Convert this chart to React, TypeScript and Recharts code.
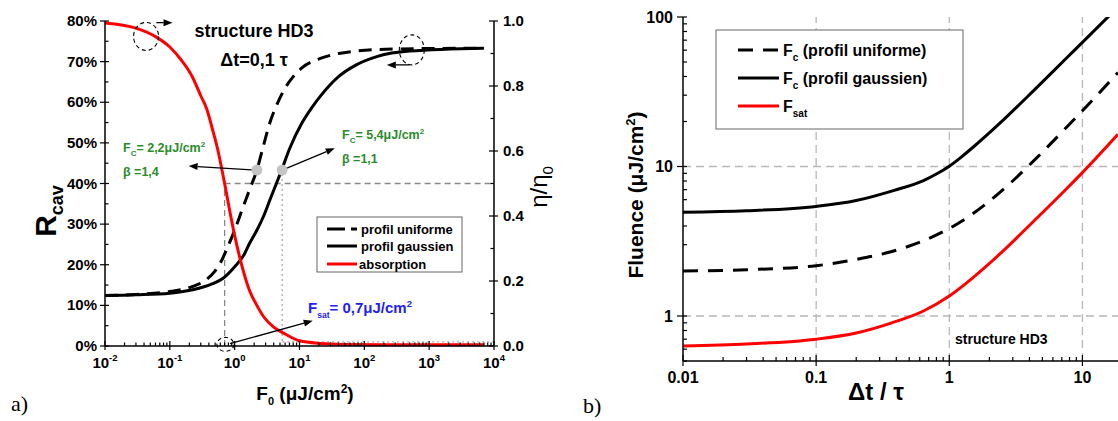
import React from 'react'
import { LineChart, Line, XAxis, YAxis, ReferenceLine, ReferenceDot } from 'recharts'

// ---------- panel a) : R_cav and eta/eta0 versus F0 (structure HD3, dt = 0.1 tau)
const fUniformA = [0.01, 0.03, 0.1, 0.22, 0.37, 0.5, 0.61, 0.8, 1.0, 1.3, 1.7, 2.2, 2.8, 3.5, 4.5, 6.0, 8.0, 11, 21, 40, 75, 270, 7000]
const rUniformA = [12.4, 12.7, 13.4, 14.6, 16.4, 18.5, 20.6, 24.8, 28.5, 33.5, 38.5, 43.3, 49.5, 55, 59.5, 63.5, 66.3, 68.5, 70.8, 72, 72.6, 73.1, 73.3]

const fGaussA = [0.01, 0.03, 0.1, 0.28, 0.47, 0.68, 1.0, 1.4, 1.7, 2.2, 2.8, 3.6, 4.4, 5.3, 7, 11, 16, 21, 40, 75, 160, 500, 7000]
const rGaussA = [12.4, 12.6, 13.0, 14.2, 15.4, 16.8, 19.5, 22.5, 25.3, 28.5, 32, 36.5, 40, 43.3, 48.5, 55, 59, 61.5, 66.3, 69.2, 71.3, 72.6, 73.3]

const fAbsA = [0.01, 0.03, 0.06, 0.1, 0.15, 0.22, 0.3, 0.37, 0.45, 0.54, 0.7, 0.85, 1.0, 1.3, 1.7, 2.2, 2.8, 4, 6, 10, 21, 50, 200, 7000]
const etaAbsA = [0.994, 0.978, 0.952, 0.92, 0.88, 0.83, 0.77, 0.73, 0.67, 0.61, 0.5, 0.41, 0.34, 0.245, 0.17, 0.125, 0.09, 0.058, 0.037, 0.016, 0.008, 0.005, 0.004, 0.004]

const fsatA = 0.7
const fcUniformA = 2.2
const fcGaussA = 5.4
const rAtFcA = 43.3

// ---------- panel b) : threshold fluences versus dt / tau
const dtB = [0.01, 0.03, 0.1, 0.2, 0.37, 0.64, 1, 1.5, 2.4, 4.3, 7.6, 10, 18.5]
const fcUniformB = [2.0, 2.04, 2.17, 2.39, 2.7, 3.19, 3.85, 4.83, 6.71, 10.9, 18.3, 23.6, 42.5]
const fsatB = [0.63, 0.65, 0.70, 0.77, 0.9, 1.08, 1.36, 1.8, 2.6, 4.3, 7.1, 9.1, 16.4]
const dtGaussB = [0.01, 0.03, 0.1, 0.2, 0.38, 0.64, 0.8, 1, 1.25, 1.5, 2.4, 4.3, 7.6, 10, 15.9]
const fcGaussB = [4.95, 5.06, 5.41, 5.92, 6.9, 8.05, 8.9, 10.05, 11.7, 13.4, 19.5, 32.2, 53.2, 67.7, 102]

const pts = (xs: number[], ys: number[]) => xs.map((x, i) => ({ x, y: ys[i] }))

const logTicks = (lo: number, hi: number) => {
  const out: number[] = []
  for (let e = Math.floor(Math.log10(lo)); e <= Math.ceil(Math.log10(hi)); e++) {
    for (let m = 1; m < 10; m++) {
      const v = +(m * Math.pow(10, e)).toPrecision(6)
      if (v >= lo - 1e-12 && v <= hi + 1e-9) out.push(v)
    }
  }
  return out
}
const isDecade = (v: number) => Math.abs(Math.log10(v) - Math.round(Math.log10(v))) < 1e-6

const FONT = '"Liberation Sans", Arial, sans-serif'
const RED = '#ff0000'
const GREEN = '#2a8c2a'
const BLUE = '#2222ee'

// ---------- tick renderers (tickSize 0 / tickMargin 0 => x,y sit on the axis line)
const XTickA = ({ x, y, payload }: any) => {
  const v = payload.value
  const major = isDecade(v)
  return (
    <g>
      <line x1={x} x2={x} y1={y - (major ? 5 : 3.5)} y2={y + (major ? 4 : 0)} stroke="#000" strokeWidth={1.2} />
      {major && (
        <text x={x} y={y + 22} textAnchor="middle" fontSize={15} fontWeight="bold" fontFamily={FONT} fill="#000">
          10<tspan dy={-7} fontSize={9.5}>{Math.round(Math.log10(v))}</tspan>
        </text>
      )}
    </g>
  )
}

const YTickLeftA = ({ x, y, payload }: any) => {
  const v = payload.value
  const major = v % 10 === 0
  return (
    <g>
      <line x1={x - (major ? 5 : 0)} x2={x + (major ? 4 : 3.5)} y1={y} y2={y} stroke="#000" strokeWidth={1.2} />
      {major && (
        <text x={x - 8} y={y + 5} textAnchor="end" fontSize={15} fontWeight="bold" fontFamily={FONT} fill="#000">{v}%</text>
      )}
    </g>
  )
}

const YTickRightA = ({ x, y, payload }: any) => {
  const v = payload.value
  const major = Math.round(v * 10) % 2 === 0
  return (
    <g>
      <line x1={x - (major ? 5 : 3.5)} x2={x + (major ? 4 : 0)} y1={y} y2={y} stroke="#000" strokeWidth={1.2} />
      {major && (
        <text x={x + 9} y={y + 5} textAnchor="start" fontSize={15} fontWeight="bold" fontFamily={FONT} fill="#000">{v.toFixed(1)}</text>
      )}
    </g>
  )
}

const XTickB = ({ x, y, payload }: any) => {
  const v = payload.value
  const major = isDecade(v)
  return (
    <g>
      <line x1={x} x2={x} y1={y - (major ? 6 : 4)} y2={y + (major ? 5 : 0)} stroke="#000" strokeWidth={1.2} />
      {major && (
        <text x={x} y={y + 22} textAnchor="middle" fontSize={16} fontWeight="bold" fontFamily={FONT} fill="#000">{String(v)}</text>
      )}
    </g>
  )
}

const YTickB = ({ x, y, payload }: any) => {
  const v = payload.value
  const major = isDecade(v)
  return (
    <g>
      <line x1={x - (major ? 6 : 0)} x2={x + 4} y1={y} y2={y} stroke="#000" strokeWidth={1.2} />
      {major && (
        <text x={x - 10} y={y + 6} textAnchor="end" fontSize={16} fontWeight="bold" fontFamily={FONT} fill="#000">{String(v)}</text>
      )}
    </g>
  )
}

// arrow drawn by ReferenceLine shape
const Arrow = (p: any) => {
  const { x1, y1, x2, y2 } = p
  const a = Math.atan2(y2 - y1, x2 - x1)
  const L = 9, w = 3.5
  const bx = x2 - L * Math.cos(a), by = y2 - L * Math.sin(a)
  const poly = `${x2},${y2} ${bx - w * Math.sin(a)},${by + w * Math.cos(a)} ${bx + w * Math.sin(a)},${by - w * Math.cos(a)}`
  return (
    <g>
      <line x1={x1} y1={y1} x2={bx} y2={by} stroke="#000" strokeWidth={1.3} />
      <polygon points={poly} fill="#000" />
    </g>
  )
}

const ellipse = (rx: number, ry: number) => (p: any) => (
  <ellipse cx={p.cx} cy={p.cy} rx={rx} ry={ry} fill="none" stroke="#000" strokeWidth={1.1} strokeDasharray="4 3" />
)

function PanelA() {
  return (
    <LineChart width={560} height={421} margin={{ top: 21, right: 6, bottom: 35, left: 45 }}>
      <XAxis dataKey="x" type="number" scale="log" domain={[0.01, 10000]} ticks={logTicks(0.01, 10000)}
        allowDataOverflow interval={0} tickSize={0} tickMargin={0} tickLine={false} tick={<XTickA />}
        axisLine={{ stroke: '#000', strokeWidth: 1.5 }} height={40} />
      <YAxis yAxisId="r" domain={[0, 80]} ticks={[0, 5, 10, 15, 20, 25, 30, 35, 40, 45, 50, 55, 60, 65, 70, 75, 80]}
        interval={0} tickSize={0} tickMargin={0} tickLine={false} tick={<YTickLeftA />}
        axisLine={{ stroke: '#000', strokeWidth: 1.5 }} width={60} />
      <YAxis yAxisId="eta" orientation="right" domain={[0, 1]} ticks={[0, 0.1, 0.2, 0.3, 0.4, 0.5, 0.6, 0.7, 0.8, 0.9, 1]}
        interval={0} tickSize={0} tickMargin={0} tickLine={false} tick={<YTickRightA />}
        axisLine={{ stroke: '#000', strokeWidth: 1.5 }} width={60} />

      <ReferenceLine yAxisId="r" segment={[{ x: fsatA, y: 40 }, { x: 10000, y: 40 }]} stroke="#888" strokeWidth={1.3} strokeDasharray="6 4" />
      <ReferenceLine yAxisId="r" segment={[{ x: fsatA, y: 0 }, { x: fsatA, y: 40 }]} stroke="#888" strokeWidth={1.3} strokeDasharray="6 4" />
      <ReferenceLine yAxisId="r" segment={[{ x: fcGaussA, y: 0 }, { x: fcGaussA, y: rAtFcA }]} stroke="#aaa" strokeWidth={1.3} strokeDasharray="2 3" />
      <ReferenceLine yAxisId="r" segment={[{ x: fcGaussA, y: 1 }, { x: 10000, y: 1 }]} stroke="#aaa" strokeWidth={1.3} strokeDasharray="2 3" />

      <Line yAxisId="r" data={pts(fUniformA, rUniformA)} dataKey="y" type="monotone" stroke="#000" strokeWidth={3} strokeDasharray="13 8" dot={false} isAnimationActive={false} />
      <Line yAxisId="r" data={pts(fGaussA, rGaussA)} dataKey="y" type="monotone" stroke="#000" strokeWidth={3} dot={false} isAnimationActive={false} />
      <Line yAxisId="eta" data={pts(fAbsA, etaAbsA)} dataKey="y" type="monotone" stroke={RED} strokeWidth={3} dot={false} isAnimationActive={false} />

      <ReferenceDot yAxisId="r" x={fcUniformA} y={rAtFcA} r={5.5} fill="#c4c4c4" stroke="none" />
      <ReferenceDot yAxisId="r" x={fcGaussA} y={rAtFcA} r={5.5} fill="#c4c4c4" stroke="none" />

      <ReferenceLine yAxisId="r" segment={[{ x: fcUniformA, y: rAtFcA }, { x: 0.195, y: 44.3 }]} shape={Arrow} />
      <ReferenceLine yAxisId="r" segment={[{ x: fcGaussA, y: rAtFcA }, { x: 35, y: 48.7 }]} shape={Arrow} />
      <ReferenceLine yAxisId="r" segment={[{ x: 0.85, y: 0.6 }, { x: 16, y: 6.2 }]} shape={Arrow} />
      <ReferenceLine yAxisId="r" segment={[{ x: 0.062, y: 79.6 }, { x: 0.11, y: 79.6 }]} shape={Arrow} />
      <ReferenceLine yAxisId="r" segment={[{ x: 500, y: 69.2 }, { x: 222, y: 69.2 }]} shape={Arrow} />

      <ReferenceDot yAxisId="r" x={0.043} y={76.2} r={12} shape={ellipse(12.5, 14)} />
      <ReferenceDot yAxisId="r" x={540} y={72.9} r={12} shape={ellipse(12.5, 15)} />
      <ReferenceDot yAxisId="r" x={0.72} y={0.4} r={8} shape={ellipse(8.5, 7)} />
    </LineChart>
  )
}

function PanelB() {
  return (
    <LineChart width={558} height={421} margin={{ top: 17, right: 0, bottom: 20, left: 63 }}>
      <XAxis dataKey="x" type="number" scale="log" domain={[0.01, 18.5]} ticks={logTicks(0.01, 18.5)}
        allowDataOverflow interval={0} tickSize={0} tickMargin={0} tickLine={false} tick={<XTickB />}
        axisLine={{ stroke: '#000', strokeWidth: 1.5 }} height={40} />
      <YAxis type="number" scale="log" domain={[0.5, 100]} ticks={logTicks(0.5, 100)} allowDataOverflow
        interval={0} tickSize={0} tickMargin={0} tickLine={false} tick={<YTickB />}
        axisLine={{ stroke: '#000', strokeWidth: 1.5 }} width={60} />

      {[0.1, 1, 10].map(v => (
        <ReferenceLine key={'v' + v} x={v} stroke="#b8b8b8" strokeWidth={1.3} strokeDasharray="8 5" />
      ))}
      {[1, 10].map(v => (
        <ReferenceLine key={'h' + v} y={v} stroke="#b8b8b8" strokeWidth={1.3} strokeDasharray="8 5" />
      ))}

      <Line data={pts(dtGaussB, fcGaussB)} dataKey="y" type="monotone" stroke="#000" strokeWidth={3} dot={false} isAnimationActive={false} />
      <Line data={pts(dtB, fcUniformB)} dataKey="y" type="monotone" stroke="#000" strokeWidth={3} strokeDasharray="15 10" dot={false} isAnimationActive={false} />
      <Line data={pts(dtB, fsatB)} dataKey="y" type="monotone" stroke={RED} strokeWidth={3} dot={false} isAnimationActive={false} />
    </LineChart>
  )
}

function Overlay() {
  const bold = { fontFamily: FONT, fontWeight: 'bold' as const }
  return (
    <svg width={1118} height={421} style={{ position: 'absolute', left: 0, top: 0, pointerEvents: 'none' }}>
      {/* panel a texts */}
      <text x={254} y={37} textAnchor="middle" fontSize={18} {...bold}>structure HD3</text>
      <text x={254} y={66} textAnchor="middle" fontSize={18} {...bold}>Δt=0,1 τ</text>

      <text x={123} y={152} fontSize={12.5} fill={GREEN} {...bold}>F<tspan dy={4} fontSize={8}>C</tspan><tspan dy={-4}>= 2,2μJ/cm</tspan><tspan dy={-5} fontSize={8}>2</tspan></text>
      <text x={123} y={176} fontSize={12.5} fill={GREEN} {...bold}>β =1,4</text>
      <text x={342} y={139} fontSize={12.5} fill={GREEN} {...bold}>F<tspan dy={4} fontSize={8}>C</tspan><tspan dy={-4}>= 5,4μJ/cm</tspan><tspan dy={-5} fontSize={8}>2</tspan></text>
      <text x={342} y={163} fontSize={12.5} fill={GREEN} {...bold}>β =1,1</text>
      <text x={308} y={313} fontSize={15} fill={BLUE} {...bold}>F<tspan dy={5} fontSize={8.5}>sat</tspan><tspan dy={-5}>= 0,7μJ/cm</tspan><tspan dy={-6} fontSize={9.5}>2</tspan></text>

      <rect x={317} y={217} width={145} height={55} fill="#fff" stroke="#666" strokeWidth={1} />
      <line x1={327} x2={357} y1={229} y2={229} stroke="#000" strokeWidth={3} strokeDasharray="18 6" />
      <text x={361} y={233.5} fontSize={13} {...bold}>profil uniforme</text>
      <line x1={327} x2={357} y1={246} y2={246} stroke="#000" strokeWidth={3} />
      <text x={361} y={250.5} fontSize={13} {...bold}>profil gaussien</text>
      <line x1={327} x2={357} y1={264} y2={264} stroke={RED} strokeWidth={3} />
      <text x={359} y={268.5} fontSize={13} {...bold}>absorption</text>

      <text transform="translate(56,211) rotate(-90)" textAnchor="middle" fontSize={30} {...bold}>R<tspan dy={7} fontSize={18}>cav</tspan></text>
      <text transform="translate(547,187) rotate(-90)" textAnchor="middle" fontSize={24} fontFamily={FONT}>η/η<tspan dy={6} fontSize={15}>0</tspan></text>
      <text x={305} y={400} textAnchor="middle" fontSize={19} {...bold}>F<tspan dy={5} fontSize={11}>0</tspan><tspan dy={-5}> (μJ/cm</tspan><tspan dy={-7} fontSize={12}>2</tspan><tspan dy={7}>)</tspan></text>
      <text x={11} y={411} fontSize={22} fontFamily='"Liberation Serif", serif'>a)</text>

      {/* panel b texts */}
      <text x={955} y={344} fontSize={14} {...bold}>structure HD3</text>
      <rect x={716} y={30} width={247} height={99} fill="#fff" stroke="#666" strokeWidth={1} />
      <line x1={738} x2={779} y1={50} y2={50} stroke="#000" strokeWidth={3} strokeDasharray="15 10" />
      <text x={783} y={56} fontSize={16} {...bold}>F<tspan dy={5} fontSize={10}>c</tspan><tspan dy={-5}> (profil uniforme)</tspan></text>
      <line x1={738} x2={779} y1={78} y2={78} stroke="#000" strokeWidth={3} />
      <text x={783} y={84} fontSize={16} {...bold}>F<tspan dy={5} fontSize={10}>c</tspan><tspan dy={-5}> (profil gaussien)</tspan></text>
      <line x1={738} x2={779} y1={106} y2={106} stroke={RED} strokeWidth={3} />
      <text x={783} y={112} fontSize={16} {...bold}>F<tspan dy={5} fontSize={10}>sat</tspan></text>

      <text transform="translate(643,195) rotate(-90)" textAnchor="middle" fontSize={21} {...bold}>Fluence (μJ/cm<tspan dy={-8} fontSize={13}>2</tspan><tspan dy={8}>)</tspan></text>
      <text x={876} y={400} textAnchor="middle" fontSize={24} {...bold}>Δt / τ</text>
      <text x={583} y={413} fontSize={22} fontFamily='"Liberation Serif", serif'>b)</text>
    </svg>
  )
}

export default function App() {
  return (
    <div style={{ position: 'absolute', left: 0, top: 0, width: 1118, height: 421, background: '#fff', overflow: 'hidden' }}>
      <div style={{ position: 'absolute', left: 0, top: 0 }}>
        <PanelA />
      </div>
      <div style={{ position: 'absolute', left: 560, top: 0 }}>
        <PanelB />
      </div>
      <Overlay />
    </div>
  )
}
